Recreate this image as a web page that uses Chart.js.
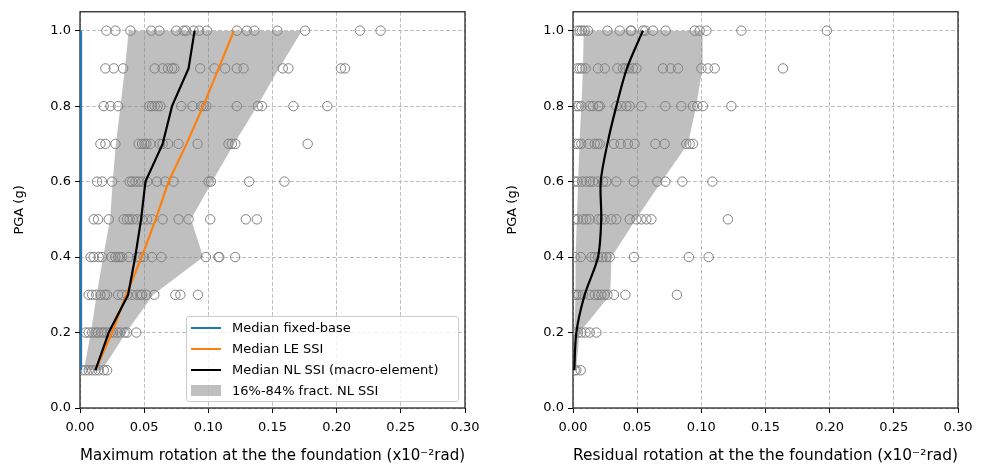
<!DOCTYPE html>
<html>
<head>
<meta charset="utf-8">
<script src="https://cdn.jsdelivr.net/npm/chart.js@4"></script>
<style>
  body { margin: 0; background: #fff; }
  #wrap { position: relative; width: 986px; height: 467px; overflow: hidden; }
  canvas { position: absolute; top: 0; }
  #leftChart { left: 0; }
  #rightChart { left: 493px; }
  .legend {
    position: absolute; left: 186px; top: 316px; width: 271px; height: 84px;
    border: 1px solid #cccccc; border-radius: 3px; background: rgba(255,255,255,0.8);
    font: 13px "DejaVu Sans", sans-serif; color: #000;
  }
  .legend .row { position: absolute; left: 0; height: 20px; line-height: 20px; white-space: nowrap; }
  .legend .line { position: absolute; left: 4px; top: 9px; width: 30px; height: 2px; }
  .legend .patch { position: absolute; left: 4px; top: 4px; width: 30px; height: 11px; background: rgba(128,128,128,0.5); }
  .legend .txt { position: absolute; left: 45px; top: 0; }
</style>
</head>
<body>
<div id="wrap">
  <canvas id="leftChart" width="493" height="467"></canvas>
  <canvas id="rightChart" width="493" height="467"></canvas>
  <div class="legend">
    <div class="row" style="top:1px"><span class="line" style="background:#1f77b4"></span><span class="txt">Median fixed-base</span></div>
    <div class="row" style="top:22px"><span class="line" style="background:#ff7f0e"></span><span class="txt">Median LE SSI</span></div>
    <div class="row" style="top:43px"><span class="line" style="background:#000"></span><span class="txt">Median NL SSI (macro-element)</span></div>
    <div class="row" style="top:64px"><span class="patch"></span><span class="txt">16%-84% fract. NL SSI</span></div>
  </div>
</div>
<script>
// PGA levels (g)
const pgaLevels = [0.1, 0.2, 0.3, 0.4, 0.5, 0.6, 0.7, 0.8, 0.9, 1.0];

// left panel: maximum rotation (x10^-2 rad)
const medianFixedBase = [0.0008, 0.0008, 0.0008, 0.0008, 0.0008, 0.0008, 0.0008, 0.0008, 0.0008, 0.0008];
const medianLeSsi = [0.012, 0.025, 0.036, 0.048, 0.059, 0.069, 0.083, 0.096, 0.108, 0.120];
const medianNlMax = [0.012, 0.0224, 0.0375, 0.043, 0.0476, 0.051, 0.0644, 0.0717, 0.0846, 0.0893];
const fract16Max = [0.003, 0.0085, 0.013, 0.018, 0.0235, 0.0255, 0.028, 0.0315, 0.035, 0.038];
const fract84Max = [0.017, 0.036, 0.057, 0.096, 0.0865, 0.103, 0.120, 0.138, 0.155, 0.173];

// individual records, one list per PGA level (0.1 ... 1.0)
const maxRotSamples = [
  [0.0017, 0.0043, 0.0068, 0.0095, 0.0121, 0.0146, 0.0185, 0.0211],
  [0.0043, 0.0068, 0.0095, 0.0121, 0.0141, 0.0167, 0.0185, 0.0211, 0.0237, 0.0258, 0.0289, 0.0315, 0.0348, 0.0367, 0.0439],
  [0.0068, 0.0095, 0.0126, 0.0159, 0.0193, 0.0211, 0.0297, 0.0328, 0.0367, 0.0406, 0.0445, 0.047, 0.0484, 0.0517, 0.0579, 0.0743, 0.0782, 0.0919],
  [0.0082, 0.0107, 0.0146, 0.0172, 0.0245, 0.0276, 0.0297, 0.031, 0.0328, 0.038, 0.0445, 0.047, 0.0496, 0.0561, 0.0634, 0.0981, 0.1079, 0.1085, 0.1209],
  [0.0107, 0.0141, 0.0224, 0.0341, 0.0367, 0.0387, 0.0411, 0.0445, 0.0484, 0.0523, 0.0561, 0.0644, 0.0768, 0.0846, 0.1015, 0.1292, 0.1378],
  [0.0133, 0.0172, 0.025, 0.0387, 0.0406, 0.0432, 0.0457, 0.0484, 0.0523, 0.06, 0.0665, 0.0729, 0.1002, 0.102, 0.1318, 0.1593],
  [0.0159, 0.0198, 0.0276, 0.0457, 0.0484, 0.0502, 0.0517, 0.0548, 0.0621, 0.0644, 0.0686, 0.0768, 0.0916, 0.1157, 0.1183, 0.121, 0.1774],
  [0.0185, 0.0237, 0.0297, 0.054, 0.0561, 0.0582, 0.0605, 0.0626, 0.0789, 0.0877, 0.0945, 0.0963, 0.0984, 0.1222, 0.1386, 0.1417, 0.1663, 0.1927],
  [0.0198, 0.0263, 0.0336, 0.0582, 0.0644, 0.0686, 0.0717, 0.0735, 0.0937, 0.1048, 0.1131, 0.1222, 0.1274, 0.158, 0.1624, 0.2033, 0.2065],
  [0.0206, 0.0276, 0.0393, 0.0556, 0.0618, 0.075, 0.0807, 0.0828, 0.0885, 0.0929, 0.0989, 0.1222, 0.13, 0.1359, 0.1538, 0.1754, 0.2181, 0.2342]
];

// right panel: residual rotation (x10^-2 rad)
const medianNlRes = [0.001, 0.0026, 0.0091, 0.0195, 0.022, 0.0216, 0.0268, 0.0338, 0.042, 0.0545];
const fract16Res = [0.001, 0.001, 0.002, 0.002, 0.003, 0.004, 0.005, 0.0065, 0.0078, 0.0083];
const fract84Res = [0.0025, 0.005, 0.029, 0.030, 0.049, 0.069, 0.0896, 0.096, 0.1008, 0.101];

const resRotSamples = [
  [0.0013, 0.0026, 0.006],
  [0.0013, 0.0039, 0.0065, 0.0097, 0.013, 0.0182],
  [0.0008, 0.0026, 0.0044, 0.0078, 0.013, 0.0169, 0.0195, 0.0221, 0.0247, 0.0268, 0.0319, 0.0408, 0.081],
  [0.0013, 0.006, 0.0143, 0.0169, 0.0195, 0.0229, 0.026, 0.0286, 0.0475, 0.0903, 0.1057],
  [0.0013, 0.0039, 0.0078, 0.0104, 0.013, 0.0195, 0.0221, 0.0247, 0.0299, 0.0338, 0.0442, 0.0494, 0.0533, 0.0572, 0.0611, 0.1207],
  [0.0013, 0.0034, 0.007, 0.0104, 0.013, 0.0156, 0.0195, 0.0234, 0.026, 0.0338, 0.0475, 0.0657, 0.072, 0.0852, 0.1086],
  [0.0019, 0.0044, 0.0065, 0.0122, 0.0169, 0.019, 0.0208, 0.0319, 0.0371, 0.0428, 0.048, 0.0642, 0.0714, 0.0883, 0.0909, 0.0935],
  [0.0026, 0.0044, 0.0065, 0.013, 0.0156, 0.0195, 0.0208, 0.0338, 0.0377, 0.0416, 0.0442, 0.0533, 0.072, 0.0844, 0.0935, 0.0969, 0.1012, 0.1234],
  [0.0034, 0.0052, 0.007, 0.0097, 0.0195, 0.0247, 0.0346, 0.0389, 0.041, 0.0434, 0.0467, 0.0494, 0.0701, 0.0761, 0.0818, 0.1, 0.1051, 0.1104, 0.1636],
  [0.0034, 0.0052, 0.007, 0.0091, 0.0117, 0.0268, 0.0364, 0.0449, 0.0455, 0.0545, 0.0564, 0.0623, 0.0722, 0.0948, 0.0987, 0.1039, 0.1312, 0.1978]
];

const xMin = 0, xMax = 0.30, xStep = 0.05;
const yMin = 0, yMax = 1.05, yStep = 0.2;

const FONT = "'DejaVu Sans', sans-serif";
const bandColor = "rgba(128,128,128,0.5)";
const gridColor = "#b0b0b0";

function pairs(xs) {
  return xs.map((x, i) => ({ x: x, y: pgaLevels[i] }));
}
function samplePoints(rows) {
  let pts = [];
  rows.forEach((row, i) => row.forEach(x => pts.push({ x: x, y: pgaLevels[i] })));
  return pts;
}

// black box round the plot area
const framePlugin = {
  id: "frame",
  beforeDatasetsDraw(chart) {
    const { ctx, chartArea: a } = chart;
    ctx.save();
    ctx.strokeStyle = "#000";
    ctx.lineWidth = 1.1;
    ctx.strokeRect(a.left, a.top, a.right - a.left, a.bottom - a.top);
    ctx.restore();
  }
};

function makeChart(id, datasets, xTitle) {
  const ctx = document.getElementById(id).getContext("2d");
  return new Chart(ctx, {
    type: "line",
    data: { datasets: datasets },
    plugins: [framePlugin],
    options: {
      indexAxis: "y",
      responsive: false,
      animation: false,
      devicePixelRatio: 1,
      layout: { padding: { left: 0, right: 28, top: 9, bottom: 0 } },
      plugins: { legend: { display: false }, tooltip: { enabled: false } },
      scales: {
        x: {
          type: "linear", position: "bottom",
          min: xMin, max: xMax,
          afterFit: s => { s.height = 59; },
          ticks: {
            stepSize: xStep, maxRotation: 0, autoSkip: false, padding: 7,
            color: "#000", font: { family: FONT, size: 13 },
            callback: v => v.toFixed(2)
          },
          grid: { color: gridColor, lineWidth: 0.8, tickColor: "#000", tickLength: 5, tickWidth: 1, tickBorderDash: [] },
          border: { display: false, dash: [4, 2] },
          title: { display: true, text: xTitle, color: "#000", font: { family: FONT, size: 15.7 }, padding: { top: 0, bottom: 2 } }
        },
        y: {
          type: "linear", position: "left",
          min: yMin, max: yMax,
          afterFit: s => { s.width = 80; },
          ticks: {
            stepSize: yStep, autoSkip: false, padding: 4,
            color: "#000", font: { family: FONT, size: 13 },
            callback: v => (v > 1.01 ? "" : v.toFixed(1))
          },
          grid: {
            color: c => (c.tick && c.tick.value > 1.01 ? "rgba(0,0,0,0)" : gridColor),
            tickColor: c => (c.tick && c.tick.value > 1.01 ? "rgba(0,0,0,0)" : "#000"),
            lineWidth: 0.8, tickLength: 5, tickWidth: 1, tickBorderDash: []
          },
          border: { display: false, dash: [4, 2] },
          title: { display: true, text: "PGA (g)", color: "#000", font: { family: FONT, size: 13 }, padding: { top: 12, bottom: 0 } }
        }
      }
    }
  });
}

function bandSets(lo, hi) {
  return [
    { data: pairs(lo), borderWidth: 0, pointRadius: 0, fill: false, order: 6 },
    { data: pairs(hi), borderWidth: 0, pointRadius: 0, order: 5,
      fill: { target: "-1", above: bandColor, below: bandColor }, backgroundColor: bandColor }
  ];
}
function scatterSet(rows) {
  return {
    data: samplePoints(rows), showLine: false, order: 4,
    pointStyle: "circle", pointRadius: 4.7, pointBorderWidth: 1,
    pointBorderColor: "#808080", pointBackgroundColor: "rgba(0,0,0,0)"
  };
}
function lineSet(xs, color, order, tension) {
  return { data: pairs(xs), borderColor: color, borderWidth: 2.2, pointRadius: 0, fill: false, order: order, tension: tension || 0 };
}

makeChart("leftChart", [
  ...bandSets(fract16Max, fract84Max),
  scatterSet(maxRotSamples),
  lineSet(medianFixedBase, "#1f77b4", 3),
  lineSet(medianLeSsi, "#ff7f0e", 2),
  lineSet(medianNlMax, "#000000", 1)
], "Maximum rotation at the the foundation (x10\u207B\u00B2rad)");

makeChart("rightChart", [
  ...bandSets(fract16Res, fract84Res),
  scatterSet(resRotSamples),
  lineSet(medianNlRes, "#000000", 1, 0.3)
], "Residual rotation at the the foundation (x10\u207B\u00B2rad)");
</script>
</body>
</html>
